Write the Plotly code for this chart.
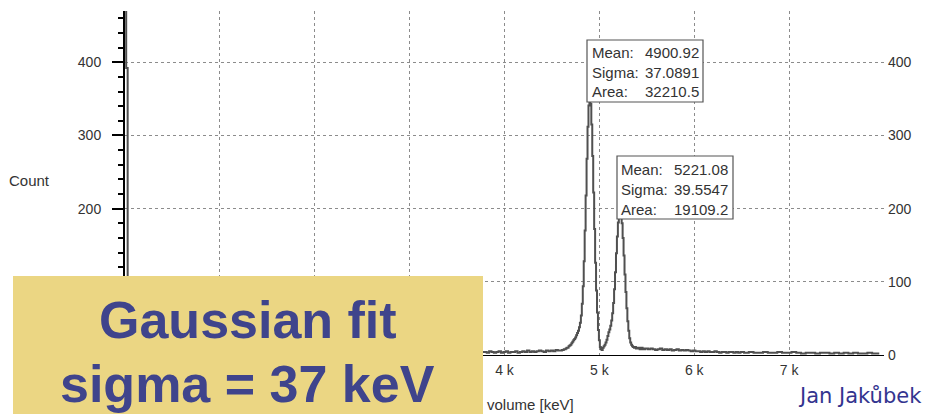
import plotly.graph_objects as go

# ---------------- data ----------------
# low-energy spike (bin centres, keV) and counts (first bin runs off the top)
spike_energy = [5, 20, 36]
spike_counts = [900, 392, 48]

# region hidden behind the label box (100 keV bins)
low_energy = [100, 200, 300, 400, 500, 600, 700, 800, 900, 1000, 1100, 1200, 1300,
              1400, 1500, 1600, 1700, 1800, 1900, 2000, 2100, 2200, 2300, 2400, 2500,
              2600, 2700, 2800, 2900, 3000, 3100, 3200, 3300, 3400, 3500, 3600, 3700]
low_counts = [40, 34, 30, 27, 25, 22, 20, 19, 17, 16, 15, 14, 13,
              12, 11, 10, 10, 9, 9, 8, 8, 7, 7, 7, 6, 6,
              6, 5, 5, 5, 5, 5, 4, 4, 4, 5, 4]

# background before the peaks (25 keV bins)
pre_energy = [3800, 3825, 3850, 3875, 3900, 3925, 3950, 3975, 4000, 4025, 4050, 4075,
              4100, 4125, 4150, 4175, 4200, 4225, 4250, 4275, 4300, 4325, 4350, 4375,
              4400, 4425, 4450, 4475, 4500, 4525, 4550, 4575]
pre_counts = [4, 3, 5, 4, 3, 4, 5, 3, 4, 5, 3, 4,
              4, 5, 3, 4, 5, 4, 6, 4, 5, 4, 5, 6,
              5, 4, 6, 5, 6, 5, 7, 6]

# the two peaks (10 keV bins, 4600 ... 5490)
peak_energy = [4600, 4610, 4620, 4630, 4640, 4650, 4660, 4670, 4680, 4690,
               4700, 4710, 4720, 4730, 4740, 4750, 4760, 4770, 4780, 4790,
               4800, 4810, 4820, 4830, 4840, 4850, 4860, 4870, 4880, 4890,
               4900, 4910, 4920, 4930, 4940, 4950, 4960, 4970, 4980, 4990,
               5000, 5010, 5020, 5030, 5040, 5050, 5060, 5070, 5080, 5090,
               5100, 5110, 5120, 5130, 5140, 5150, 5160, 5170, 5180, 5190,
               5200, 5210, 5220, 5230, 5240, 5250, 5260, 5270, 5280, 5290,
               5300, 5310, 5320, 5330, 5340, 5350, 5360, 5370, 5380, 5390,
               5400, 5410, 5420, 5430, 5440, 5450, 5460, 5470, 5480, 5490]
peak_counts = [6, 7, 7, 8, 8, 9, 10, 10, 12, 13,
               14, 16, 18, 20, 22, 24, 27, 30, 33, 38,
               44, 54, 70, 94, 128, 170, 218, 268, 312, 341,
               350, 343, 315, 272, 222, 172, 126, 88, 58, 34,
               20, 11, 8, 7, 10, 12, 14, 17, 21, 26,
               31, 35, 40, 47, 57, 71, 90, 113, 139, 162,
               181, 192, 196, 192, 180, 160, 136, 110, 86, 64,
               46, 33, 23, 17, 14, 12, 11, 10, 11, 9,
               10, 9, 10, 8, 9, 10, 8, 9, 8, 9]

# tail after the peaks (25 keV bins)
tail_energy = [5500, 5525, 5550, 5575, 5600, 5625, 5650, 5675, 5700, 5725,
               5750, 5775, 5800, 5825, 5850, 5875, 5900, 5925, 5950, 5975,
               6000, 6025, 6050, 6075, 6100, 6125, 6150, 6175, 6200, 6225,
               6250, 6275, 6300, 6325, 6350, 6375, 6400, 6425, 6450, 6475]
tail_counts = [9, 8, 9, 8, 7, 8, 9, 7, 8, 7,
               8, 6, 7, 8, 6, 7, 6, 7, 6, 5,
               6, 5, 5, 4, 5, 4, 5, 4, 4, 5,
               4, 3, 4, 4, 3, 4, 4, 3, 4, 3]

# far tail (50 keV bins)
far_energy = [6500, 6550, 6600, 6650, 6700, 6750, 6800, 6850, 6900, 6950,
              7000, 7050, 7100, 7150, 7200, 7250, 7300, 7350, 7400, 7450,
              7500, 7550, 7600, 7650, 7700, 7750, 7800, 7850, 7900, 7950]
far_counts = [4, 3, 4, 3, 3, 4, 3, 3, 4, 3,
              3, 4, 3, 2, 3, 3, 2, 3, 3, 2,
              3, 2, 3, 2, 3, 2, 2, 3, 2, 2]

# Gaussian fit results shown in the two boxes
fit_labels = ["Mean:", "Sigma:", "Area:"]
fit1_values = ["4900.92", "37.0891", "32210.5"]
fit2_values = ["5221.08", "39.5547", "19109.2"]

# grid every 1 k; the 1 k-3 k labels sit under the yellow box in the picture
x_tick_vals = [1000, 2000, 3000, 4000, 5000, 6000, 7000]
x_tick_text = ["", "", "", "4 k", "5 k", "6 k", "7 k"]
y_tick_vals = [0, 100, 200, 300, 400]
y_left_text = ["", "100", "200", "300", "400"]      # left "0" is under the box
y_right_text = ["0", "100", "200", "300", "400"]

energy = spike_energy + low_energy + pre_energy + peak_energy + tail_energy + far_energy
counts = spike_counts + low_counts + pre_counts + peak_counts + tail_counts + far_counts

# ---------------- layout helpers ----------------
W, H = 926, 414
L, R, T, B = 125, 42, 11, 59
PW = W - L - R
PH = H - T - B


def px(x):
    return (x - L) / PW


def py(y):
    return (H - B - y) / PH


FONT = "Liberation Sans, Arial, sans-serif"
TXT = "#333333"
GRID = "#8c8c8c"

fig = go.Figure()
fig.add_trace(go.Scatter(x=energy, y=counts, mode="lines", line_shape="hvh",
                         line=dict(color="#505050", width=2),
                         showlegend=False, hoverinfo="skip"))
fig.add_trace(go.Scatter(x=[None], y=[None], yaxis="y2", mode="lines",
                         showlegend=False, hoverinfo="skip"))

fig.update_layout(
    width=W, height=H,
    margin=dict(l=L, r=R, t=T, b=B, pad=0),
    paper_bgcolor="white", plot_bgcolor="white",
    font=dict(family=FONT, color=TXT, size=14),
    showlegend=False,
    xaxis=dict(range=[0, 8000], tickmode="array", tickvals=x_tick_vals,
               ticktext=x_tick_text, showgrid=True, gridcolor=GRID, gridwidth=1,
               griddash="3px,3px", zeroline=False, showline=True,
               linecolor="black", linewidth=1, ticks="",
               tickfont=dict(size=14, color=TXT), ticklabelstandoff=2),
    yaxis=dict(range=[0, 470], tickmode="array", tickvals=y_tick_vals,
               ticktext=y_left_text,
               showgrid=True, gridcolor=GRID, gridwidth=1, griddash="3px,3px",
               zeroline=False, showline=True, linecolor="black", linewidth=2,
               ticks="outside", ticklen=11, tickwidth=1.5, tickcolor="black",
               tickfont=dict(size=14, color=TXT), ticklabelstandoff=8,
               minor=dict(dtick=20, tick0=0, ticks="outside", ticklen=5,
                          tickwidth=1.5, tickcolor="black", showgrid=False)),
    yaxis2=dict(range=[0, 470], overlaying="y", side="right", tickmode="array",
                tickvals=y_tick_vals, ticktext=y_right_text, showgrid=False,
                zeroline=False, showline=False, ticks="",
                tickfont=dict(size=14, color=TXT), ticklabelstandoff=3),
)

shapes = []
annotations = []

# fit boxes
boxes = [
    dict(x0=587, x1=703, y0=40, y1=102, lab_x=590, val_x=701, rows=[52, 72, 92],
         values=fit1_values),
    dict(x0=617, x1=733, y0=156, y1=219, lab_x=619, val_x=730, rows=[169, 189, 209],
         values=fit2_values),
]
for b in boxes:
    shapes.append(dict(type="rect", xref="paper", yref="paper",
                       x0=px(b["x0"]), x1=px(b["x1"]), y0=py(b["y1"]), y1=py(b["y0"]),
                       fillcolor="white", line=dict(color="#555555", width=1.2),
                       layer="above"))
    for lab, val, ry in zip(fit_labels, b["values"], b["rows"]):
        annotations.append(dict(xref="paper", yref="paper", x=px(b["lab_x"]), y=py(ry),
                                xanchor="left", yanchor="middle", showarrow=False,
                                text=lab, font=dict(size=15, color=TXT, family=FONT)))
        annotations.append(dict(xref="paper", yref="paper", x=px(b["val_x"]), y=py(ry),
                                xanchor="right", yanchor="middle", showarrow=False,
                                text=val, font=dict(size=15, color=TXT, family=FONT)))

# axis titles
annotations.append(dict(xref="paper", yref="paper", x=px(29), y=py(180),
                        xanchor="center", yanchor="middle", showarrow=False,
                        text="Count", font=dict(size=15, color=TXT, family=FONT)))
annotations.append(dict(xref="paper", yref="paper", x=px(485), y=py(404),
                        xanchor="left", yanchor="middle", showarrow=False,
                        text="volume [keV]", font=dict(size=15, color=TXT, family=FONT)))

# yellow overlay box
shapes.append(dict(type="rect", xref="paper", yref="paper",
                   x0=px(13), x1=px(483), y0=py(416), y1=py(276),
                   fillcolor="#ebd683", line=dict(width=0), layer="above"))
BLUE = "#3f448c"
annotations.append(dict(xref="paper", yref="paper", x=px(248), y=py(320),
                        xanchor="center", yanchor="middle", showarrow=False,
                        text="<b>Gaussian fit</b>",
                        font=dict(size=52, color=BLUE, family=FONT)))
annotations.append(dict(xref="paper", yref="paper", x=px(247), y=py(384),
                        xanchor="center", yanchor="middle", showarrow=False,
                        text="<b>sigma = 37 keV</b>",
                        font=dict(size=52, color=BLUE, family=FONT)))

# author
annotations.append(dict(xref="paper", yref="paper", x=px(924), y=py(396),
                        xanchor="right", yanchor="middle", showarrow=False,
                        text="Jan Jakůbek",
                        font=dict(size=21, color="#33348f", family="DejaVu Sans, Verdana, sans-serif")))

fig.update_layout(shapes=shapes, annotations=annotations)
fig.write_html("out.html", config={"displayModeBar": False},
               post_script="document.body.style.margin='0px';document.body.style.overflow='hidden';")
